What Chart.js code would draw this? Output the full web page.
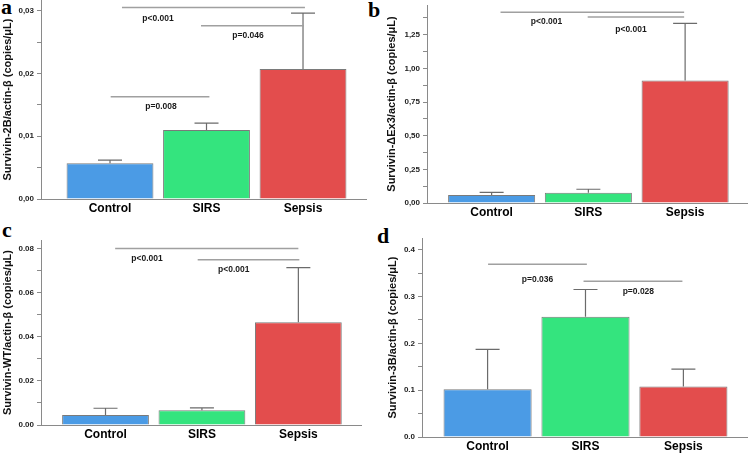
<!DOCTYPE html>
<html lang="en">
<head>
  <meta charset="UTF-8">
  <title>Survivin variants</title>
  <script src="https://cdn.jsdelivr.net/npm/chart.js"></script>
  <style>
    body {
      margin: 0;
      background: #fff;
      width: 749px;
      height: 454px;
      overflow: hidden;
      position: relative;
    }
    canvas { position: absolute; }
    .tag {
      position: absolute;
      font: bold 22px 'Liberation Serif', 'Times New Roman', serif;
      line-height: 1;
      color: #000;
    }
  </style>
</head>
<body>
  <div class="tag" style="left:1px;top:-4px">a</div>
  <div class="tag" style="left:368px;top:-1px">b</div>
  <div class="tag" style="left:2px;top:219px">c</div>
  <div class="tag" style="left:377px;top:225px">d</div>

  <canvas id="chartA" width="367" height="231" style="left:0;top:-10px"></canvas>
  <canvas id="chartB" width="364" height="230" style="left:384px;top:-5px"></canvas>
  <canvas id="chartC" width="362" height="217" style="left:0;top:230px"></canvas>
  <canvas id="chartD" width="363" height="231" style="left:385px;top:228px"></canvas>

  <script>
    const groups = ['Control', 'SIRS', 'Sepsis'];
    const barColors = ['#4b9be5', '#34e47e', '#e34d4d'];

    // a - Survivin-2B
    const meanA = [0.0057, 0.0110, 0.0207];
    const upperA = [0.0062, 0.0121, 0.0296];
    const tickValA = [0, 0.005, 0.01, 0.015, 0.02, 0.025, 0.03];
    const tickLabA = ['0,00', '', '0,01', '', '0,02', '', '0,03'];
    const sigA = [[0.124, 2.02, 0.0305], [0.943, 2.01, 0.0276], [0.007, 1.03, 0.0163]];
    const sigTextA = ['p<0.001', 'p=0.046', 'p=0.008'];
    const sigPosA = [[0.497, 0.0288], [1.43, 0.0260], [0.528, 0.0147]];

    // b - Survivin-dEx3
    const meanB = [0.059, 0.077, 0.911];
    const upperB = [0.079, 0.102, 1.335];
    const tickValB = [0, 0.125, 0.25, 0.375, 0.5, 0.625, 0.75, 0.875, 1, 1.125, 1.25, 1.375];
    const tickLabB = ['0,00', '', '0,25', '', '0,50', '', '0,75', '', '1,00', '', '1,25', ''];
    const sigB = [[0.092, 1.99, 1.417], [0.993, 1.99, 1.382]];
    const sigTextB = ['p<0.001', 'p<0.001'];
    const sigPosB = [[0.568, 1.35], [1.44, 1.29]];

    // c - Survivin-WT
    const meanC = [0.0045, 0.0067, 0.0466];
    const upperC = [0.0076, 0.0078, 0.0714];
    const tickValC = [0, 0.01, 0.02, 0.03, 0.04, 0.05, 0.06, 0.07, 0.08];
    const tickLabC = ['0.00', '', '0.02', '', '0.04', '', '0.06', '', '0.08'];
    const sigC = [[0.10, 2.0, 0.0800], [0.956, 2.01, 0.0749]];
    const sigTextC = ['p<0.001', 'p<0.001'];
    const sigPosC = [[0.43, 0.0755], [1.33, 0.0706]];

    // d - Survivin-3B
    const meanD = [0.102, 0.257, 0.108];
    const upperD = [0.187, 0.315, 0.145];
    const tickValD = [0, 0.05, 0.1, 0.15, 0.2, 0.25, 0.3, 0.35, 0.4];
    const tickLabD = ['0.0', '', '0.1', '', '0.2', '', '0.3', '', '0.4'];
    const sigD = [[0.005, 1.014, 0.369], [0.98, 1.99, 0.3325]];
    const sigTextD = ['p=0.036', 'p=0.028'];
    const sigPosD = [[0.51, 0.337], [1.54, 0.311]];

    const font = "'Liberation Sans', Arial, sans-serif";
    const axisGray = '#8a8a8a';

    // error bars + significance brackets, drawn through the chart scales
    const extras = {
      id: 'extras',
      afterDatasetsDraw(chart, args, opts) {
        const ctx = chart.ctx;
        const xs = chart.scales.x, ys = chart.scales.y;
        ctx.save();
        ctx.strokeStyle = '#6b6b6b';
        ctx.lineWidth = 1.2;
        opts.upper.forEach((u, i) => {
          const px = xs.getPixelForValue(i);
          const y0 = ys.getPixelForValue(opts.mean[i]);
          const y1 = ys.getPixelForValue(u);
          ctx.beginPath();
          ctx.moveTo(px, y0);
          ctx.lineTo(px, y1);
          ctx.moveTo(px - 12, y1);
          ctx.lineTo(px + 12, y1);
          ctx.stroke();
        });
        ctx.strokeStyle = '#a0a0a0';
        ctx.lineWidth = 1.5;
        opts.sig.forEach(s => {
          const y = ys.getPixelForValue(s[2]);
          ctx.beginPath();
          ctx.moveTo(xs.getPixelForValue(s[0]), y);
          ctx.lineTo(xs.getPixelForValue(s[1]), y);
          ctx.stroke();
        });
        ctx.fillStyle = '#1a1a1a';
        ctx.font = 'bold 8.5px ' + font;
        ctx.textAlign = 'center';
        ctx.textBaseline = 'middle';
        opts.sigText.forEach((t, i) => {
          ctx.fillText(t, xs.getPixelForValue(opts.sigPos[i][0]), ys.getPixelForValue(opts.sigPos[i][1]));
        });
        ctx.restore();
      }
    };

    function makePanel(id, p) {
      return new Chart(document.getElementById(id), {
        type: 'bar',
        data: {
          datasets: [{
            data: p.mean.map((v, i) => ({ x: i, y: v })),
            backgroundColor: barColors,
            borderColor: '#7a7a7a',
            borderWidth: 1,
            barPercentage: 0.9,
            categoryPercentage: 1
          }]
        },
        plugins: [extras],
        options: {
          responsive: false,
          animation: false,
          devicePixelRatio: 1,
          layout: { padding: { top: 10, right: 0, bottom: 0, left: 0 } },
          plugins: {
            legend: { display: false },
            tooltip: { enabled: false },
            extras: { mean: p.mean, upper: p.upper, sig: p.sig, sigText: p.sigText, sigPos: p.sigPos }
          },
          scales: {
            x: {
              type: 'linear',
              offset: false,
              min: p.xMin,
              max: p.xMax,
              afterBuildTicks: s => { s.ticks = groups.map((g, i) => ({ value: i })); },
              afterFit: s => { s.height = 22; },
              grid: { display: true, offset: false, drawOnChartArea: false, drawTicks: false, color: axisGray },
              border: { display: true, color: axisGray, width: 1 },
              ticks: {
                autoSkip: false,
                maxRotation: 0,
                padding: 2,
                color: '#000',
                font: { family: font, size: 12, weight: 'bold' },
                callback: (v, i) => groups[i]
              }
            },
            y: {
              min: 0,
              max: p.yMax,
              afterBuildTicks: s => { s.ticks = p.tickVal.map(v => ({ value: v })); },
              afterFit: s => { s.width = p.yWidth; },
              grid: { drawOnChartArea: false, drawTicks: true, tickLength: 4, color: axisGray },
              border: { display: true, color: axisGray, width: 1 },
              ticks: {
                autoSkip: false,
                padding: 3,
                color: '#222',
                font: { family: font, size: 8, weight: 'bold' },
                callback: (v, i) => p.tickLab[i]
              },
              title: {
                display: true,
                text: p.title,
                color: '#111',
                padding: { top: 1, bottom: 0 },
                font: { family: font, size: 11, weight: 'bold' }
              }
            }
          }
        }
      });
    }

    makePanel('chartA', {
      mean: meanA, upper: upperA, tickVal: tickValA, tickLab: tickLabA,
      sig: sigA, sigText: sigTextA, sigPos: sigPosA,
      yMax: 0.0317, xMin: -0.715, xMax: 2.663, yWidth: 41,
      title: 'Survivin-2B/actin-β (copies/μL)'
    });
    makePanel('chartB', {
      mean: meanB, upper: upperB, tickVal: tickValB, tickLab: tickLabB,
      sig: sigB, sigText: sigTextB, sigPos: sigPosB,
      yMax: 1.471, xMin: -0.668, xMax: 2.65, yWidth: 43,
      title: 'Survivin-ΔEx3/actin-β (copies/μL)'
    });
    makePanel('chartC', {
      mean: meanC, upper: upperC, tickVal: tickValC, tickLab: tickLabC,
      sig: sigC, sigText: sigTextC, sigPos: sigPosC,
      yMax: 0.0839, xMin: -0.669, xMax: 2.66, yWidth: 41,
      title: 'Survivin-WT/actin-β (copies/μL)'
    });
    makePanel('chartD', {
      mean: meanD, upper: upperD, tickVal: tickValD, tickLab: tickLabD,
      sig: sigD, sigText: sigTextD, sigPos: sigPosD,
      yMax: 0.425, xMin: -0.67, xMax: 2.66, yWidth: 37,
      title: 'Survivin-3B/actin-β (copies/μL)'
    });
  </script>
</body>
</html>
